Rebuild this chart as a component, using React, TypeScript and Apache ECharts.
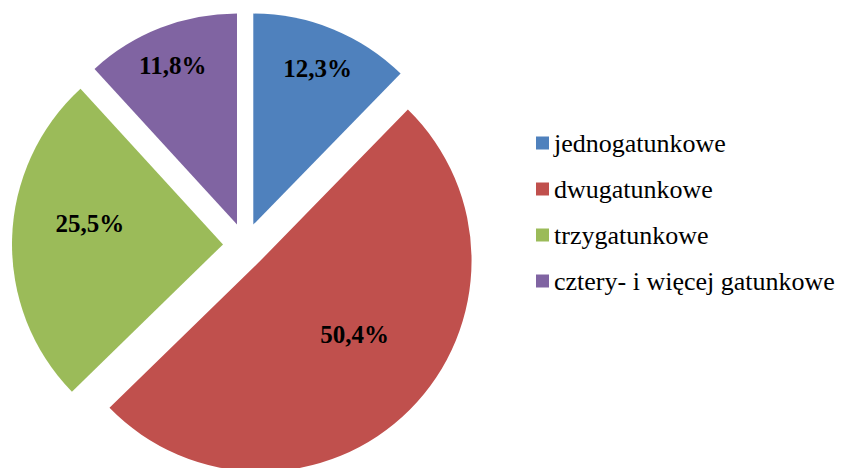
import React, { useEffect, useRef } from "react";
import * as echarts from "echarts";

const categories = [
  "jednogatunkowe",
  "dwugatunkowe",
  "trzygatunkowe",
  "cztery- i więcej gatunkowe",
];
const values = [12.3, 50.4, 25.5, 11.8];
const labels = ["12,3%", "50,4%", "25,5%", "11,8%"];
const colors = ["#4F81BD", "#C0504D", "#9BBB59", "#8064A2"];
// value label placement: fraction of the radius and angle (deg, clockwise from top)
const labelRadius = [0.787, 0.552, 0.624, 0.8];
const labelAngle = [22.4, 127.8, 279, 338];

const RADIUS = 211;
const SERIF = "Liberation Serif";

export default function App() {
  const ref = useRef<HTMLDivElement>(null);
  useEffect(() => {
    document.body.style.margin = "0";
    const chart = echarts.init(ref.current!, null, { renderer: "svg" });
    const total = values.reduce((a, b) => a + b, 0);
    const mids: number[] = [];
    let acc = 0;
    values.forEach((v) => {
      mids.push(((acc + v / 2) / total) * 360);
      acc += v;
    });
    const rad = (d: number) => (d * Math.PI) / 180;
    chart.setOption({
      animation: false,
      color: colors,
      textStyle: { fontFamily: SERIF },
      legend: {
        orient: "vertical",
        left: 531,
        top: 125,
        itemWidth: 13,
        itemHeight: 13,
        itemGap: 20,
        icon: "rect",
        selectedMode: false,
        textStyle: {
          fontFamily: SERIF,
          fontSize: 26,
          color: "#000",
        },
        data: categories,
      },
      series: [
        {
          type: "pie",
          center: [245, 245],
          radius: [0, RADIUS],
          startAngle: 90,
          clockwise: true,
          selectedMode: "multiple",
          selectedOffset: 22,
          avoidLabelOverlap: false,
          emphasis: { disabled: true },
          label: {
            show: true,
            position: "inside",
            fontFamily: SERIF,
            fontWeight: "bold",
            fontSize: 25,
            color: "#000",
            formatter: (p: any) => labels[p.dataIndex],
          },
          labelLine: { show: false },
          labelLayout: (p: any) => {
            const i = p.dataIndex;
            const m = rad(mids[i]);
            const t = rad(labelAngle[i]);
            const tr = labelRadius[i] * RADIUS;
            const cr = RADIUS / 2;
            return {
              dx: tr * Math.sin(t) - cr * Math.sin(m),
              dy: -tr * Math.cos(t) + cr * Math.cos(m),
            };
          },
          data: categories.map((name, i) => ({
            name,
            value: values[i],
            selected: true,
          })),
        },
      ],
    });
    return () => chart.dispose();
  }, []);
  return (
    <div
      ref={ref}
      style={{ position: "absolute", left: 0, top: 0, width: 843, height: 468 }}
    />
  );
}
